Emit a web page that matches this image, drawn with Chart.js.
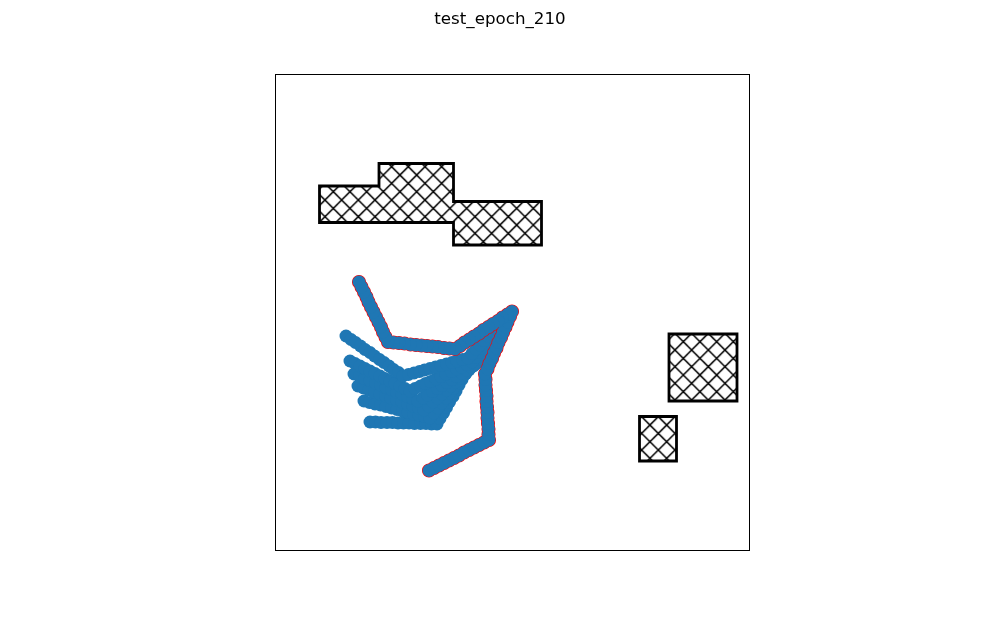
<!DOCTYPE html>
<html>
<head>
<meta charset="utf-8">
<script src="https://cdn.jsdelivr.net/npm/chart.js@4.4.1/dist/chart.umd.min.js"></script>
<style>
html,body{margin:0;padding:0;background:#fff;}
#wrap{width:1000px;height:618px;}
</style>
</head>
<body>
<div id="wrap"><canvas id="c" width="1000" height="618"></canvas></div>
<script>
const titleText = "test_epoch_210";
const xRange = [0, 95];
const yRange = [0, 95.2];

// main trajectory (red-edged markers)
const pathX = [30.8,31.8,32.8,33.8,34.8,35.8,36.8,37.8,38.8,39.8,40.8,41.8,42.8,
  42.7,42.7,42.6,42.5,42.5,42.4,42.3,42.3,42.2,42.1,42.1,42.0,
  42.5,42.9,43.4,43.8,44.3,44.7,45.2,45.6,46.1,46.5,47.0,47.4,
  46.5,45.5,44.6,43.6,42.7,41.7,40.8,39.8,38.9,37.9,37.0,36.0,
  34.9,33.8,32.6,31.5,30.4,29.3,28.2,27.1,25.9,24.8,23.7,22.6,
  22.1,21.6,21.2,20.7,20.2,19.7,19.2,18.7,18.3,17.8,17.3,16.8];
const pathY = [15.9,16.4,16.9,17.4,17.9,18.4,18.9,19.5,20.0,20.5,21.0,21.5,22.0,
  23.1,24.2,25.3,26.4,27.5,28.6,29.7,30.8,31.9,33.0,34.1,35.2,
  36.2,37.3,38.3,39.4,40.4,41.5,42.5,43.5,44.6,45.6,46.7,47.7,
  47.1,46.5,45.8,45.2,44.6,44.0,43.3,42.7,42.1,41.5,40.8,40.2,
  40.3,40.4,40.6,40.7,40.8,40.9,41.0,41.1,41.3,41.4,41.5,41.6,
  42.6,43.6,44.6,45.6,46.6,47.6,48.6,49.6,50.6,51.6,52.6,53.6];

// other trajectories (plain markers)
const fan1X = [14.2,15.2,16.1,17.1,18.0,19.0,19.9,20.9,21.8,22.8,23.7,24.7,25.6,26.7,27.8,28.9,29.9,31.0,32.1,33.2,34.3,35.4,36.4,37.5,38.6,39.4,40.2,41.0,41.8,42.6,43.4,44.2,45.0];
const fan1Y = [42.8,42.1,41.5,40.8,40.1,39.5,38.8,38.1,37.5,36.8,36.1,35.5,34.8,35.1,35.4,35.7,36.0,36.3,36.6,36.9,37.2,37.5,37.8,38.1,38.4,39.3,40.2,41.0,41.9,42.8,43.7,44.5,45.4];
const fan2X = [15.0,16.0,17.0,18.0,19.0,20.0,21.0,22.0,23.0,24.0,25.0,26.0,27.0,28.0,29.1,30.1,31.1,32.2,33.2,34.2,35.3,36.3,37.3,38.4,39.4,40.1,40.8,41.5,42.2,42.9,43.6,44.3,45.0];
const fan2Y = [37.8,37.3,36.8,36.3,35.8,35.3,34.8,34.3,33.8,33.3,32.8,32.3,31.8,32.3,32.8,33.3,33.7,34.2,34.7,35.2,35.7,36.2,36.6,37.1,37.6,38.5,39.5,40.4,41.3,42.2,43.2,44.1,45.0];
const fan3X = [15.8,16.9,17.9,19.0,20.1,21.1,22.2,23.3,24.3,25.4,26.5,27.5,28.6,29.6,30.5,31.5,32.5,33.4,34.4,35.4,36.3,37.3,38.3,39.2,40.2,40.8,41.4,42.0,42.6,43.2,43.8,44.4,45.0];
const fan3Y = [35.2,34.8,34.3,33.9,33.4,33.0,32.5,32.1,31.6,31.2,30.7,30.3,29.8,30.4,31.0,31.7,32.3,32.9,33.5,34.1,34.7,35.4,36.0,36.6,37.2,38.1,39.1,40.0,40.9,41.8,42.8,43.7,44.6];
const fan4X = [16.6,17.7,18.8,19.9,21.0,22.1,23.2,24.3,25.4,26.5,27.6,28.7,29.8,30.7,31.6,32.5,33.4,34.3,35.2,36.1,37.0,37.9,38.8,39.7,40.6,41.2,41.9,42.5,43.1,43.7,44.4,45.0];
const fan4Y = [32.8,32.4,32.0,31.6,31.2,30.8,30.4,30.0,29.6,29.2,28.8,28.4,28.0,28.8,29.6,30.4,31.2,32.0,32.8,33.6,34.4,35.2,36.0,36.8,37.6,38.6,39.5,40.5,41.5,42.5,43.4,44.4];
const fan5X = [17.8,18.9,20.0,21.1,22.2,23.3,24.4,25.5,26.6,27.7,28.8,29.9,31.0,31.8,32.6,33.4,34.2,35.0,35.8,36.6,37.4,38.2,39.0,39.8,40.6,41.3,42.1,42.8,43.5,44.3,45.0];
const fan5Y = [29.8,29.5,29.2,29.0,28.7,28.4,28.1,27.8,27.5,27.2,27.0,26.7,26.4,27.4,28.4,29.4,30.4,31.4,32.4,33.4,34.4,35.4,36.4,37.4,38.4,39.4,40.4,41.4,42.4,43.4,44.4];
const fan6X = [19.0,20.1,21.2,22.4,23.5,24.6,25.7,26.8,27.9,29.1,30.2,31.3,32.4,33.0,33.7,34.3,34.9,35.6,36.2,36.8,37.4,38.1,38.7,39.3,40.0,40.6,41.5,42.4,43.2,44.1,45.0];
const fan6Y = [25.6,25.6,25.5,25.5,25.5,25.4,25.4,25.4,25.3,25.3,25.3,25.2,25.2,26.3,27.4,28.5,29.6,30.7,31.8,33.0,34.1,35.2,36.3,37.4,38.5,39.6,40.6,41.5,42.5,43.4,44.4];

// obstacles (closed polygons; first edge repeated so every corner is joined)
const obs1X = [8.9,20.8,20.8,35.7,35.7,53.3,53.3,35.7,35.7,8.9,8.9,20.8];
const obs1Y = [72.8,72.8,77.3,77.3,69.7,69.7,61.0,61.0,65.5,65.5,72.8,72.8];
const obs2X = [78.8,92.4,92.4,78.8,78.8,92.4];
const obs2Y = [43.2,43.2,29.8,29.8,43.2,43.2];
const obs3X = [72.9,80.3,80.3,72.9,72.9,80.3];
const obs3Y = [26.7,26.7,17.8,17.8,26.7,26.7];

const zip = (xs, ys) => xs.map((x, i) => ({x: x, y: ys[i]}));

// cross hatch pattern
function makeHatch() {
  const t = 50, sp = 50 / 3;
  const cv = document.createElement('canvas');
  cv.width = t; cv.height = t;
  const g = cv.getContext('2d');
  g.fillStyle = '#ffffff';
  g.fillRect(0, 0, t, t);
  g.strokeStyle = '#000000';
  g.lineWidth = 1.5;
  for (let k = -4; k <= 7; k++) {
    const c = k * sp;
    g.beginPath(); g.moveTo(c - t, -t); g.lineTo(c + 2 * t, 2 * t); g.stroke();
    g.beginPath(); g.moveTo(c + t, -t); g.lineTo(c - 2 * t, 2 * t); g.stroke();
  }
  const p = g.createPattern(cv, 'repeat');
  try { p.setTransform(new DOMMatrix().translate(8.3, 0)); } catch (e) {}
  return p;
}
const hatch = makeHatch();

const markerColor = '#1f77b4';
const fanSets = [[fan1X, fan1Y], [fan2X, fan2Y], [fan3X, fan3Y], [fan4X, fan4Y], [fan5X, fan5Y], [fan6X, fan6Y]];
const obsSets = [[obs1X, obs1Y], [obs2X, obs2Y], [obs3X, obs3Y]];

const datasets = [];
// cover layer: same path markers without edge, on top
datasets.push({
  type: 'scatter', data: zip(pathX, pathY), order: 0,
  pointRadius: 6.4, pointHoverRadius: 6.4,
  pointBackgroundColor: markerColor, pointBorderWidth: 0, pointBorderColor: markerColor
});
// red-edged path markers
datasets.push({
  type: 'scatter', data: zip(pathX, pathY), order: 1,
  pointRadius: 6.4, pointHoverRadius: 6.4,
  pointBackgroundColor: markerColor, pointBorderColor: '#ff0000', pointBorderWidth: 1.3
});
fanSets.forEach(([xs, ys]) => datasets.push({
  type: 'scatter', data: zip(xs, ys), order: 2,
  pointRadius: 6.5, pointHoverRadius: 6.5,
  pointBackgroundColor: markerColor, pointBorderWidth: 0, pointBorderColor: markerColor
}));
obsSets.forEach(([xs, ys]) => datasets.push({
  type: 'line', data: zip(xs, ys), order: 3,
  showLine: true, fill: 'shape', tension: 0,
  backgroundColor: hatch, borderColor: '#000000', borderWidth: 2.8,
  borderJoinStyle: 'miter', borderCapStyle: 'butt', pointRadius: 0
}));

const framePlugin = {
  id: 'frame',
  afterDraw(chart) {
    const a = chart.chartArea, ctx = chart.ctx;
    ctx.save();
    ctx.strokeStyle = '#000000';
    ctx.lineWidth = 1;
    ctx.strokeRect(a.left + 0.5, a.top + 0.5, a.right - a.left - 1, a.bottom - a.top);
    ctx.fillStyle = '#000000';
    ctx.font = '16.7px "DejaVu Sans"';
    ctx.textAlign = 'center';
    ctx.textBaseline = 'middle';
    ctx.fillText(titleText, chart.width / 2, 20);
    ctx.restore();
  }
};

new Chart(document.getElementById('c'), {
  type: 'scatter',
  data: { datasets: datasets },
  options: {
    responsive: false, animation: false, devicePixelRatio: 1,
    layout: { padding: { left: 275, right: 250, top: 74, bottom: 68 } },
    scales: {
      x: { type: 'linear', min: xRange[0], max: xRange[1], display: false },
      y: { type: 'linear', min: yRange[0], max: yRange[1], display: false }
    },
    plugins: {
      legend: { display: false },
      tooltip: { enabled: false },
      title: { display: false, text: titleText }
    }
  },
  plugins: [framePlugin]
});
</script>
</body>
</html>
